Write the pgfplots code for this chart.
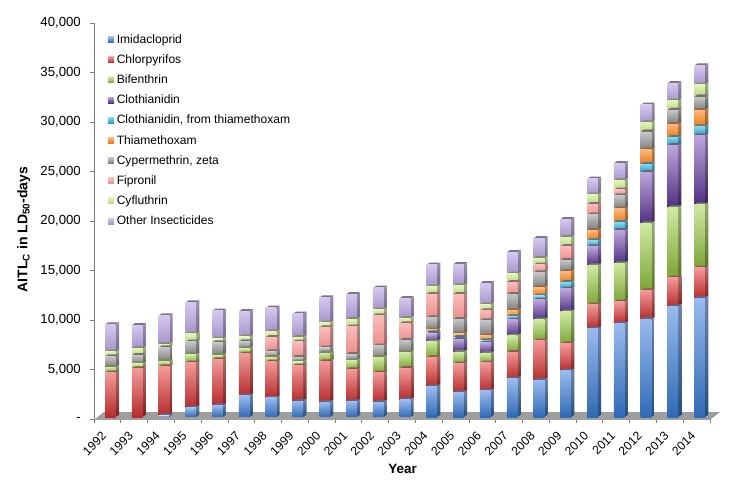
\documentclass[border=0pt]{standalone}
\usepackage{fontspec}
\setmainfont{Liberation Sans}
\usepackage{pgfplots}
\usepackage{pgfplotstable}
\pgfplotsset{compat=1.18}
\pgfplotstableread{
x yr imi chl bif clo cft thi cyp fip cyf oth
0 1992 0 4444 573 0 0 0 1077 0 472 2761
1 1993 0 4882 471 0 0 0 876 0 673 2357
2 1994 135 4949 539 0 0 0 1380 0 337 2896
3 1995 909 4545 809 0 0 0 1313 0 808 3165
4 1996 1145 4646 438 0 0 0 1279 0 371 2828
5 1997 2121 4243 538 0 0 0 707 0 472 2592
6 1998 1919 3636 472 0 0 0 572 1448 573 2390
7 1999 1582 3569 404 0 0 0 472 1549 471 2357
8 2000 1481 4108 875 0 0 0 506 2053 472 2559
9 2001 1549 3232 909 0 0 0 640 2761 774 2525
10 2002 1481 2963 1583 0 0 0 1145 3064 572 2222
11 2003 1717 3199 1582 0 0 0 1246 1684 538 2021
12 2004 3064 2929 1616 775 135 269 1246 2357 740 2223
13 2005 2458 2895 1179 1313 202 337 1481 2526 875 2155
14 2006 2626 2828 943 1078 235 472 1549 1010 572 2189
15 2007 3838 2694 1650 1616 337 606 1650 1212 841 2189
16 2008 3704 3973 2121 2020 404 842 1515 775 673 2020
17 2009 4646 2728 3232 2323 674 1077 1145 1414 909 1818
18 2010 8889 2424 3973 1919 606 1044 1549 1077 943 1616
19 2011 9394 2222 3872 3367 808 1347 1347 572 943 1751
20 2012 9865 2896 6768 5185 808 1448 1751 101 908 1785
21 2013 11145 2895 7105 6296 808 1313 1381 67 909 1785
22 2014 11987 3063 6364 7004 909 1649 1314 67 1178 1953
}\data
\definecolor{ftimi}{HTML}{9ABAEE}\definecolor{fbimi}{HTML}{2F6AB4}
\definecolor{ftchl}{HTML}{F29A98}\definecolor{fbchl}{HTML}{B52B2B}
\definecolor{ftbif}{HTML}{CFE9A2}\definecolor{fbbif}{HTML}{7CA436}
\definecolor{ftclo}{HTML}{BDA6DC}\definecolor{fbclo}{HTML}{4E2F80}
\definecolor{ftcft}{HTML}{86D6EA}\definecolor{fbcft}{HTML}{2A9CC0}
\definecolor{ftthi}{HTML}{FDB57A}\definecolor{fbthi}{HTML}{E87A1E}
\definecolor{ftcyp}{HTML}{C4C4C4}\definecolor{fbcyp}{HTML}{7C7C7C}
\definecolor{ftfip}{HTML}{F8BCBA}\definecolor{fbfip}{HTML}{EA8E8C}
\definecolor{ftcyf}{HTML}{E2F2B8}\definecolor{fbcyf}{HTML}{B4D888}
\definecolor{ftoth}{HTML}{D4C8EE}\definecolor{fboth}{HTML}{A593C9}
\newcommand\defside[1]{\colorlet{st#1}{ft#1!72!black}\colorlet{sb#1}{fb#1!72!black}\colorlet{tt#1}{ft#1!58!black}}
\defside{imi}\defside{chl}\defside{bif}\defside{clo}\defside{cft}\defside{thi}\defside{cyp}\defside{fip}\defside{cyf}\defside{oth}
\pgfdeclareplotmark{nomark}{}
\newcommand\segdraw[1]{%
  \pgfmathsetmacro\hh{\pgfplotspointmeta*0.0099}%
  \ifdim\hh pt>0.05pt
    \pgfmathsetmacro\yb{2-\hh}%
    \pgfmathsetmacro\ybs{4.3-\hh}%
    \fill[draw=none,color=tt#1] (-2.35pt,2pt)--(8.35pt,2pt)--(11.65pt,4.3pt)--(0.95pt,4.3pt)--cycle;
    \shade[draw=none,top color=st#1,bottom color=sb#1] (8.35pt,2pt)--(11.65pt,4.3pt)--(11.65pt,\ybs pt)--(8.35pt,\yb pt)--cycle;
    \shade[draw=none,top color=ft#1,bottom color=fb#1] (-2.35pt,2pt) rectangle (8.35pt,\yb pt);
  \fi}
\newcommand\lgimg[1]{\addlegendimage{legend image code/.code={%
  \shade[draw=none,top color=ft#1,bottom color=fb#1] (0pt,-3pt) rectangle (6pt,3pt);
  \path[draw=none] (0pt,0pt)--(9pt,0pt);}}}
\begin{document}
\begin{tikzpicture}[x=1pt,y=1pt]
\path[use as bounding box,fill=white] (0,0) rectangle (740,494);
\begin{axis}[scale only axis,width=616pt,height=396pt,xmin=-0.5,xmax=22.5,ymin=0,ymax=40000,anchor=south west,
  at={(94pt,75pt)},axis lines*=left,axis line style={color=black!50,line width=0.9pt},
  tick style={color=black!50,line width=0.8pt},tick align=outside,
  scaled y ticks=false,stack plots=y,
  xtick={0,...,22},xticklabels={1992,1993,1994,1995,1996,1997,1998,1999,2000,2001,2002,2003,2004,2005,2006,2007,2008,2009,2010,2011,2012,2013,2014},
  major x tick style={draw=none},
  minor xtick={-0.5,0.5,...,22.5},
  minor tick length=4pt,major tick length=4pt,
  ytick={0,5000,...,40000},yticklabels={-\hspace{8pt},{5,000},{10,000},{15,000},{20,000},{25,000},{30,000},{35,000},{40,000}},
  yticklabel style={font=\fontsize{13.2}{15}\selectfont,inner sep=0pt,xshift=-9pt},
  xticklabel style={font=\fontsize{12.2}{14}\selectfont,rotate=45,anchor=north east,inner sep=0pt,xshift=-10pt,yshift=-1pt},
  xlabel={Year},ylabel={AITL\textsubscript{C} in LD\textsubscript{50}-days},
  xlabel style={at={(axis description cs:0.501,-0.126)},anchor=center,font=\fontsize{13.5}{15}\selectfont\bfseries},
  ylabel style={at={(axis description cs:-0.114,0.4785)},anchor=center,font=\fontsize{14}{15}\selectfont\bfseries},
  legend style={draw=none,fill=none,at={(axis description cs:0.022,0.9716)},anchor=north west,font=\fontsize{12.1}{14}\selectfont,row sep=9.9pt,inner sep=0pt,nodes={inner sep=0pt}},
  legend cell align=left,
  clip=false]
\addplot[stack plots=false,fill=black!38,draw=none,forget plot] coordinates {(-0.5,-100)(22.5,-100)(22.87,700)(-0.13,700)} -- cycle;
\pgfplotsinvokeforeach{imi,chl,bif,clo,cft,thi,cyp,fip,cyf,oth}{
\addplot[forget plot,only marks,mark=nomark,scatter,point meta=explicit symbolic,
  scatter/@pre marker code/.code={\segdraw{#1}},scatter/@post marker code/.code={}]
  table[x=x,y=#1,meta=#1]{\data};
}
\lgimg{imi}\addlegendentry{Imidacloprid}
\lgimg{chl}\addlegendentry{Chlorpyrifos}
\lgimg{bif}\addlegendentry{Bifenthrin}
\lgimg{clo}\addlegendentry{Clothianidin}
\lgimg{cft}\addlegendentry{Clothianidin, from thiamethoxam}
\lgimg{thi}\addlegendentry{Thiamethoxam}
\lgimg{cyp}\addlegendentry{Cypermethrin, zeta}
\lgimg{fip}\addlegendentry{Fipronil}
\lgimg{cyf}\addlegendentry{Cyfluthrin}
\lgimg{oth}\addlegendentry{Other Insecticides}
\end{axis}
\end{tikzpicture}
\end{document}
